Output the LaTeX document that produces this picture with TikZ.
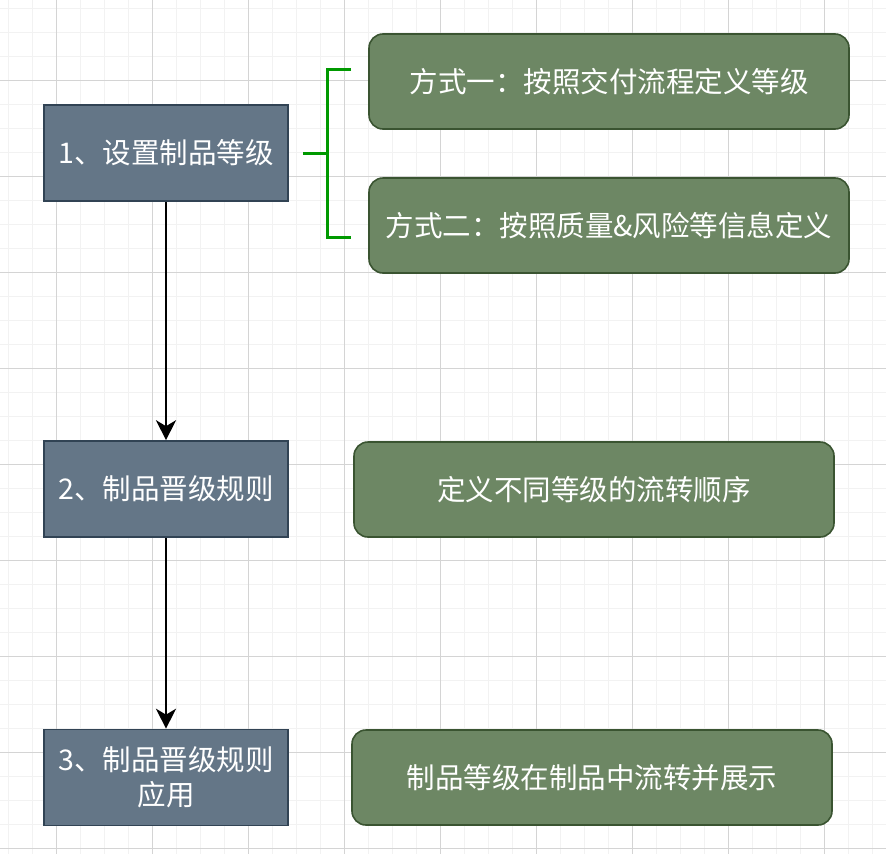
\documentclass[tikz,border=0pt]{standalone}
\usepackage{fontspec}
\setmainfont{Noto Sans CJK SC}
\usetikzlibrary{arrows.meta}
\definecolor{slatefill}{HTML}{647687}
\definecolor{slatedraw}{HTML}{314354}
\definecolor{greenfill}{HTML}{6D8764}
\definecolor{greendraw}{HTML}{3A5431}
\definecolor{bracketgreen}{HTML}{009900}
\definecolor{gridminor}{HTML}{F2F2F2}
\definecolor{gridmajor}{HTML}{D4D4D4}
\tikzset{
  slatebox/.style={draw=slatedraw, fill=slatefill, line width=1.6pt, minimum width=244pt, minimum height=96pt, text=white, align=center, font=\fontsize{28.5}{35}\selectfont, inner sep=0pt},
  greenbox/.style={draw=greendraw, fill=greenfill, line width=1.6pt, rounded corners=14pt, minimum width=480pt, minimum height=95pt, text=white, align=center, font=\fontsize{28.5}{35}\selectfont, inner sep=0pt},
  flowarrow/.style={draw=black, line width=2pt, -{Stealth[length=20pt, width=20pt, inset=6pt]}},
  bracket/.style={draw=bracketgreen, line width=3pt}
}
\begin{document}
\begin{tikzpicture}[x=1pt, y=-1pt]
\useasboundingbox (0,0) rectangle (886,854);
\fill[white] (0,0) rectangle (886,854);
% grid
\foreach \x in {8,32,...,886} \draw[gridminor, line width=1pt] (\x,0) -- (\x,854);
\foreach \y in {8,32,...,854} \draw[gridminor, line width=1pt] (0,\y) -- (886,\y);
\foreach \x in {56,152,...,886} \draw[gridmajor, line width=1pt] (\x,0) -- (\x,854);
\foreach \y in {80,176,...,854} \draw[gridmajor, line width=1pt] (0,\y) -- (886,\y);
% left boxes
\node[slatebox] (b1) at (166,153) {1、设置制品等级};
\node[slatebox] (b2) at (166,489) {2、制品晋级规则};
\node[slatebox] (b3) at (166,777.5) {3、制品晋级规则\\应用};
% right boxes
\node[greenbox] (g1) at (609,81.5) {方式一：按照交付流程定义等级};
\node[greenbox] (g2) at (609,225.5) {方式二：按照质量\&风险等信息定义};
\node[greenbox] (g3) at (594,489.5) {定义不同等级的流转顺序};
\node[greenbox] (g4) at (592,777.5) {制品等级在制品中流转并展示};
% arrows
\draw[flowarrow] (b1.south) -- (b2.north);
\draw[flowarrow] (b2.south) -- (b3.north);
% bracket
\coordinate (bt) at (351,69);
\coordinate (bb) at (351,237);
\coordinate (bm) at (303,153);
\draw[bracket] (bt) -- (327,69) -- (327,237) -- (bb);
\draw[bracket] (bm) -- (327,153);
\end{tikzpicture}
\end{document}
